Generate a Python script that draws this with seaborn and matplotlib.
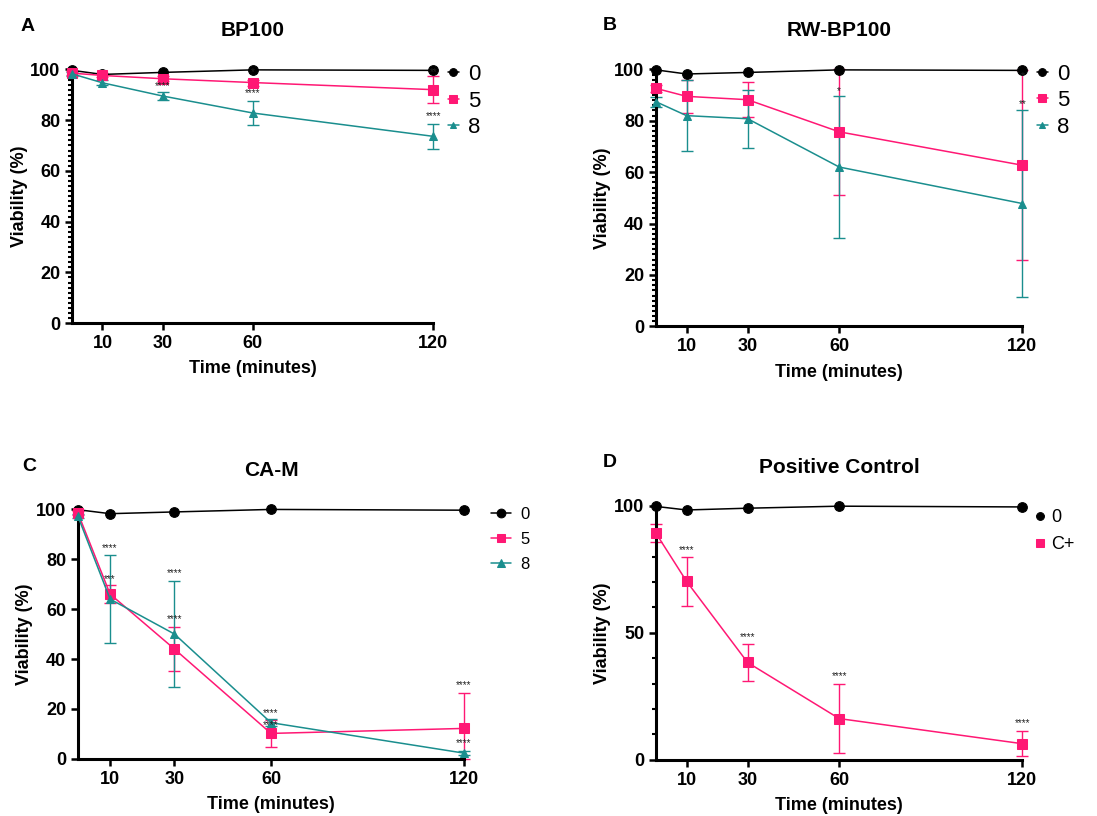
import matplotlib
matplotlib.use("Agg")
import matplotlib.pyplot as plt
import numpy as np
import pandas as pd
import seaborn as sns
from matplotlib.ticker import MultipleLocator

# time points (minutes)
times = [0, 10, 30, 60, 120]

# panel A - BP100
bp100_0 = [99.6, 98.0, 98.8, 99.8, 99.6]
bp100_5 = [98.5, 97.6, 96.3, 94.8, 92.0]
bp100_5_err = [0.8, 0.8, 1.0, 1.2, 5.2]
bp100_8 = [98.2, 94.7, 89.5, 82.8, 73.6]
bp100_8_err = [0.8, 1.0, 1.6, 4.6, 5.0]
bp100_stars = [(30, 91.5, "****"), (60, 88.5, "****"), (60, 96.8, "*"),
               (120, 97.0, "**"), (120, 79.5, "****")]

# panel B - RW-BP100
rw_0 = [99.8, 98.2, 98.8, 99.8, 99.6]
rw_5 = [92.6, 89.5, 88.2, 75.7, 62.7]
rw_5_err = [1.5, 6.4, 6.8, 24.5, 37.0]
rw_8 = [87.4, 82.0, 80.8, 62.0, 47.8]
rw_8_err = [2.0, 13.8, 11.3, 27.5, 36.3]
rw_stars = [(60, 89.5, "*"), (120, 95.5, "*"), (120, 84.5, "**")]

# panel C - CA-M
cam_0 = [99.8, 98.2, 98.9, 99.9, 99.6]
cam_5 = [98.5, 66.0, 44.0, 10.2, 12.2]
cam_5_err = [0.8, 3.5, 8.8, 5.3, 14.0]
cam_8 = [97.2, 64.0, 50.0, 14.5, 2.3]
cam_8_err = [0.8, 17.7, 21.3, 1.5, 0.8]
cam_stars = [(10, 82.5, "****"), (10, 70.0, "***"), (30, 72.5, "****"),
             (30, 53.8, "****"), (60, 16.2, "****"), (60, 11.5, "****"),
             (120, 27.5, "****"), (120, 4.5, "****")]

# panel D - positive control
pc_0 = [99.8, 98.4, 99.1, 99.9, 99.6]
pc_c = [89.2, 70.3, 38.3, 16.2, 6.3]
pc_c_err = [3.6, 9.7, 7.3, 13.6, 5.0]
pc_stars = [(10, 80.5, "****"), (30, 46.5, "****"), (60, 30.8, "****"), (120, 12.5, "****")]

BLACK = "#000000"
PINK = "#FF1874"
TEAL = "#1A8E8E"


def draw_series(ax, y, err, color, marker, ms, label):
    df = pd.DataFrame({"time": times, "viability": y})
    sns.lineplot(data=df, x="time", y="viability", color=color, marker=marker,
                 markersize=ms, markeredgecolor=color, linewidth=1.1,
                 label=label, clip_on=False, ax=ax, zorder=3)
    if err is not None:
        # the axis stops at 0, so the lower whisker is cut there
        lower = np.minimum(err, y)
        ax.errorbar(times, y, yerr=[lower, err], fmt="none", ecolor=color,
                    elinewidth=1.0, capsize=4, capthick=1.0, clip_on=False,
                    zorder=2)


def style_axis(ax, title, letter, ymajor, yminor):
    ax.set_xlim(0, 120)
    ax.set_ylim(0, 100)
    ax.set_xticks([10, 30, 60, 120])
    ax.yaxis.set_major_locator(MultipleLocator(ymajor))
    if yminor:
        ax.yaxis.set_minor_locator(MultipleLocator(yminor))
    sns.despine(ax=ax)
    for side in ["left", "bottom"]:
        ax.spines[side].set_linewidth(2.2)
        ax.spines[side].set_color("black")
    ax.tick_params(axis="both", which="major", length=5, width=1.8, labelsize=13,
                   color="black", labelcolor="black")
    ax.tick_params(axis="y", which="minor", length=3, width=1.5, color="black")
    for lab in ax.get_xticklabels() + ax.get_yticklabels():
        lab.set_fontweight("bold")
    ax.set_xlabel("Time (minutes)", fontsize=13, fontweight="bold", labelpad=6,
                  color="black")
    ax.set_ylabel("Viability (%)", fontsize=13, fontweight="bold", labelpad=2,
                  color="black")
    ax.set_title(title, fontsize=15, fontweight="bold", pad=24, color="black")
    ax.text(-0.145, 1.17, letter, transform=ax.transAxes, fontsize=14,
            fontweight="bold", ha="left", va="center", color="black")


def add_stars(ax, stars):
    for x, y, s in stars:
        ax.text(x, y, s, ha="center", va="bottom", fontsize=7, color="#222222")


sns.set_theme(style="ticks")
plt.rcParams["font.family"] = ["Liberation Sans", "DejaVu Sans"]
plt.rcParams["text.color"] = "black"

fig = plt.figure(figsize=(10.97, 8.16), dpi=100)
ax_a = fig.add_axes([0.066, 0.604, 0.329, 0.311])
ax_b = fig.add_axes([0.598, 0.600, 0.334, 0.315])
ax_c = fig.add_axes([0.071, 0.070, 0.352, 0.306])
ax_d = fig.add_axes([0.598, 0.069, 0.334, 0.311])

# A
draw_series(ax_a, bp100_0, None, BLACK, "o", 7, "0")
draw_series(ax_a, bp100_5, bp100_5_err, PINK, "s", 7, "5")
draw_series(ax_a, bp100_8, bp100_8_err, TEAL, "^", 6, "8")
add_stars(ax_a, bp100_stars)
style_axis(ax_a, "BP100", "A", 20, 2)

# B
draw_series(ax_b, rw_0, None, BLACK, "o", 7, "0")
draw_series(ax_b, rw_5, rw_5_err, PINK, "s", 7, "5")
draw_series(ax_b, rw_8, rw_8_err, TEAL, "^", 6, "8")
add_stars(ax_b, rw_stars)
style_axis(ax_b, "RW-BP100", "B", 20, 2)

# C
draw_series(ax_c, cam_0, None, BLACK, "o", 7, "0")
draw_series(ax_c, cam_5, cam_5_err, PINK, "s", 7, "5")
draw_series(ax_c, cam_8, cam_8_err, TEAL, "^", 6, "8")
add_stars(ax_c, cam_stars)
style_axis(ax_c, "CA-M", "C", 20, None)

# D
draw_series(ax_d, pc_0, None, BLACK, "o", 7, "0")
draw_series(ax_d, pc_c, pc_c_err, PINK, "s", 7, "C+")
add_stars(ax_d, pc_stars)
style_axis(ax_d, "Positive Control", "D", 50, 10)

for ax in [ax_a, ax_b]:
    ax.legend(loc="upper left", bbox_to_anchor=(0.985, 1.10), frameon=False,
              fontsize=16, handlelength=0.5, handletextpad=0.4,
              labelspacing=0.25, markerscale=0.8)
ax_c.legend(loc="upper left", bbox_to_anchor=(1.03, 1.07), frameon=False,
            fontsize=12, handlelength=1.2, handletextpad=0.6, labelspacing=0.6,
            markerscale=0.9)
ax_d.legend(loc="upper left", bbox_to_anchor=(0.995, 1.05), frameon=False,
            fontsize=13, handlelength=0.4, handletextpad=0.4, labelspacing=0.55,
            markerscale=0.8)

fig.savefig("out.png", dpi=100)
